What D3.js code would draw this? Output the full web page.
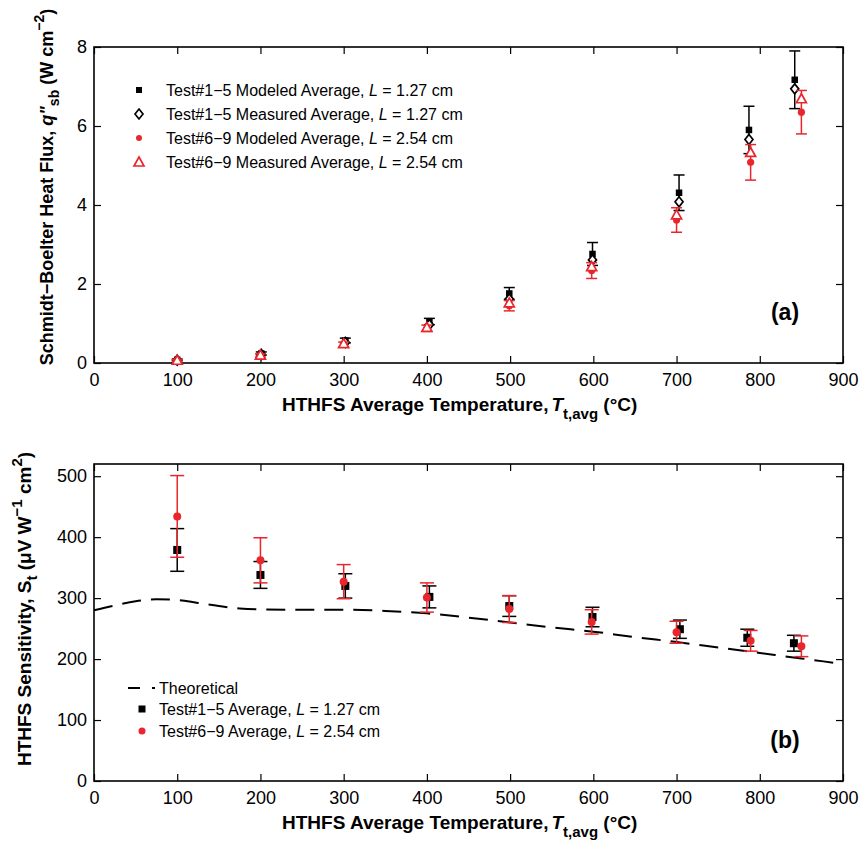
<!DOCTYPE html>
<html>
<head>
<meta charset="utf-8">
<script src="https://cdn.jsdelivr.net/npm/d3@7"></script>
<style>
  body { margin: 0; background: #fff; }
  svg text { font-family: "Liberation Sans", Arial, sans-serif; fill: #000; }
</style>
</head>
<body>
<div id="chart"></div>
<script>
// ---------------- data ----------------
// panel (a): Schmidt-Boelter heat flux, W cm^-2
var tempA1      = [100, 201, 302, 403, 499, 599, 703, 787, 842];   // Test#1-5
var modeledA1   = [0.08, 0.24, 0.57, 1.05, 1.76, 2.76, 4.31, 5.90, 7.17];
var modeledErrA1= [0.02, 0.04, 0.06, 0.08, 0.15, 0.29, 0.45, 0.60, 0.73];
var measuredA1  = [0.07, 0.22, 0.52, 0.97, 1.62, 2.61, 4.08, 5.66, 6.94];

var tempA2      = [100, 200, 300, 400, 499, 598, 700, 789, 850];   // Test#6-9
var modeledA2   = [0.07, 0.19, 0.47, 0.88, 1.45, 2.34, 3.62, 5.08, 6.35];
var modeledErrA2= [0.02, 0.04, 0.06, 0.08, 0.13, 0.20, 0.31, 0.45, 0.55];
var measuredA2  = [0.07, 0.20, 0.49, 0.90, 1.52, 2.44, 3.75, 5.33, 6.69];

// panel (b): HTHFS sensitivity, uV W^-1 cm^2
var tempB1   = [100, 200, 302, 403, 499, 599, 704, 785, 841];
var sensB1   = [379, 338, 320, 302, 287, 269, 249, 235, 226];
var sensErrB1= [35, 22, 20, 18, 17, 16, 15, 14, 13];
var tempB2   = [100, 200, 300, 400, 499, 598, 700, 789, 850];
var sensB2   = [434, 362, 327, 301, 282, 261, 244, 230, 221];
var sensErrB2= [67, 37, 28, 24, 22, 20, 18, 17, 17];

var theoT    = [0, 25, 50, 75, 100, 125, 150, 175, 200, 250, 300, 350, 400, 450, 500, 550, 600, 650, 700, 750, 800, 850, 900];
var theoS    = [280, 288, 295, 298, 297, 292, 287, 283, 281.5, 281, 281, 279, 275, 268, 260, 252, 245, 236, 228, 219, 210, 201, 192];

var xTicks   = [0, 100, 200, 300, 400, 500, 600, 700, 800, 900];
var yTicksA  = [0, 2, 4, 6, 8];
var yTicksB  = [0, 100, 200, 300, 400, 500];

var RED = "#e8262b";

// ---------------- layout ----------------
var W = 862, H = 844;
var svg = d3.select("#chart").append("svg").attr("width", W).attr("height", H);

var xLeft = 94, xRight = 843;
var panelA = {top: 47, bottom: 363}, panelB = {top: 464, bottom: 781};

var x = d3.scaleLinear().domain([0, 900]).range([xLeft, xRight]);
var yA = d3.scaleLinear().domain([0, 8]).range([panelA.bottom, panelA.top]);
var yB = d3.scaleLinear().domain([0, 520]).range([panelB.bottom, panelB.top]);

function drawFrame(y, p, yTicks) {
  var g = svg.append("g");
  // bottom axis with labels, inward ticks
  g.append("g").attr("transform", "translate(0," + p.bottom + ")")
    .call(d3.axisBottom(x).tickValues(xTicks).tickSizeInner(-7).tickSizeOuter(0).tickPadding(10));
  g.append("g").attr("transform", "translate(0," + p.top + ")")
    .call(d3.axisTop(x).tickValues(xTicks).tickSizeInner(-7).tickSizeOuter(0).tickFormat(""));
  g.append("g").attr("transform", "translate(" + xLeft + ",0)")
    .call(d3.axisLeft(y).tickValues(yTicks).tickSizeInner(-7).tickSizeOuter(0).tickPadding(7));
  g.append("g").attr("transform", "translate(" + xRight + ",0)")
    .call(d3.axisRight(y).tickValues(yTicks).tickSizeInner(-7).tickSizeOuter(0).tickFormat(""));
  g.selectAll(".domain").remove();
  g.selectAll(".tick line").attr("stroke", "#000").attr("stroke-width", 1.2);
  g.selectAll(".tick text").style("font-size", "18px");
  g.append("rect").attr("x", xLeft).attr("y", p.top)
    .attr("width", xRight - xLeft).attr("height", p.bottom - p.top)
    .attr("fill", "none").attr("stroke", "#000").attr("stroke-width", 1.6);
}

function errorBars(g, xs, ys, es, y, color, cap) {
  var data = xs.map(function (t, i) { return {t: t, v: ys[i], e: es[i]}; });
  var eg = g.append("g").attr("stroke", color).attr("stroke-width", 1.5).attr("fill", "none");
  eg.selectAll("line.v").data(data).enter().append("line")
    .attr("x1", function (d) { return x(d.t); }).attr("x2", function (d) { return x(d.t); })
    .attr("y1", function (d) { return y(d.v - d.e); }).attr("y2", function (d) { return y(d.v + d.e); });
  [-1, 1].forEach(function (s) {
    eg.selectAll(null).data(data).enter().append("line")
      .attr("x1", function (d) { return x(d.t) - cap; }).attr("x2", function (d) { return x(d.t) + cap; })
      .attr("y1", function (d) { return y(d.v + s * d.e); }).attr("y2", function (d) { return y(d.v + s * d.e); });
  });
}

function squares(g, xs, ys, y, size) {
  g.selectAll(null).data(xs).enter().append("rect")
    .attr("x", function (t) { return x(t) - size / 2; })
    .attr("y", function (t, i) { return y(ys[i]) - size / 2; })
    .attr("width", size).attr("height", size).attr("fill", "#000");
}
function dots(g, xs, ys, y, r) {
  g.selectAll(null).data(xs).enter().append("circle")
    .attr("cx", function (t) { return x(t); })
    .attr("cy", function (t, i) { return y(ys[i]); })
    .attr("r", r).attr("fill", RED);
}
var diamondPath = "M0,-5L4,0L0,5L-4,0Z";
var trianglePath = "M0,-5L5,4L-5,4Z";
function shapes(g, xs, ys, y, path, color) {
  g.selectAll(null).data(xs).enter().append("path")
    .attr("d", path)
    .attr("transform", function (t, i) { return "translate(" + x(t) + "," + y(ys[i]) + ")"; })
    .attr("fill", "#fff").attr("stroke", color).attr("stroke-width", 1.7);
}

// ---------------- panel (a) ----------------
drawFrame(yA, panelA, yTicksA);
var gA = svg.append("g");
errorBars(gA, tempA1, modeledA1, modeledErrA1, yA, "#000", 5.5);
squares(gA, tempA1, modeledA1, yA, 6.5);
shapes(gA, tempA1, measuredA1, yA, diamondPath, "#000");
errorBars(gA, tempA2, modeledA2, modeledErrA2, yA, RED, 5.5);
dots(gA, tempA2, modeledA2, yA, 3.6);
shapes(gA, tempA2, measuredA2, yA, trianglePath, RED);

// legend (a)
var legA = svg.append("g");
var legAItems = [
  {name: "Test#1\u22125 Modeled Average, ", L: "1.27 cm", kind: "sq"},
  {name: "Test#1\u22125 Measured Average, ", L: "1.27 cm", kind: "dia"},
  {name: "Test#6\u22129 Modeled Average, ", L: "2.54 cm", kind: "dot"},
  {name: "Test#6\u22129 Measured Average, ", L: "2.54 cm", kind: "tri"}
];
legAItems.forEach(function (d, i) {
  var cy = 90 + i * 24, cx = 139;
  if (d.kind === "sq") legA.append("rect").attr("x", cx - 3).attr("y", cy - 3).attr("width", 6).attr("height", 6).attr("fill", "#000");
  if (d.kind === "dia") legA.append("path").attr("d", diamondPath).attr("transform", "translate(" + cx + "," + cy + ")").attr("fill", "#fff").attr("stroke", "#000").attr("stroke-width", 1.7);
  if (d.kind === "dot") legA.append("circle").attr("cx", cx).attr("cy", cy).attr("r", 3).attr("fill", RED);
  if (d.kind === "tri") legA.append("path").attr("d", trianglePath).attr("transform", "translate(" + cx + "," + cy + ")").attr("fill", "#fff").attr("stroke", RED).attr("stroke-width", 1.7);
  var t = legA.append("text").attr("x", 166).attr("y", cy + 6).style("font-size", "16px");
  t.append("tspan").text(d.name);
  t.append("tspan").style("font-style", "italic").text("L");
  t.append("tspan").text(" = " + d.L);
});

svg.append("text").attr("x", 785).attr("y", 320).attr("text-anchor", "middle")
  .style("font-size", "23px").style("font-weight", "bold").text("(a)");

// ---------------- panel (b) ----------------
drawFrame(yB, panelB, yTicksB);
var gB = svg.append("g");
var theoLine = d3.line().curve(d3.curveMonotoneX)
  .x(function (t) { return x(t); })
  .y(function (t, i) { return yB(theoS[i]); });
gB.append("path").datum(theoT).attr("d", theoLine)
  .attr("fill", "none").attr("stroke", "#000").attr("stroke-width", 2)
  .attr("stroke-dasharray", "19,10");
errorBars(gB, tempB1, sensB1, sensErrB1, yB, "#000", 7);
squares(gB, tempB1, sensB1, yB, 8);
errorBars(gB, tempB2, sensB2, sensErrB2, yB, RED, 7);
dots(gB, tempB2, sensB2, yB, 4);

// legend (b)
var legB = svg.append("g");
legB.append("line").attr("x1", 128).attr("x2", 140).attr("y1", 688).attr("y2", 688)
  .attr("stroke", "#000").attr("stroke-width", 2);
legB.append("line").attr("x1", 152).attr("x2", 155).attr("y1", 688).attr("y2", 688)
  .attr("stroke", "#000").attr("stroke-width", 2);
legB.append("text").attr("x", 159).attr("y", 694).style("font-size", "16px").text("Theoretical");
var legBItems = [
  {name: "Test#1\u22125 Average, ", L: "1.27 cm", kind: "sq"},
  {name: "Test#6\u22129 Average, ", L: "2.54 cm", kind: "dot"}
];
legBItems.forEach(function (d, i) {
  var cy = 709 + i * 22, cx = 142;
  if (d.kind === "sq") legB.append("rect").attr("x", cx - 3.5).attr("y", cy - 3.5).attr("width", 7).attr("height", 7).attr("fill", "#000");
  else legB.append("circle").attr("cx", cx).attr("cy", cy).attr("r", 3.5).attr("fill", RED);
  var t = legB.append("text").attr("x", 159).attr("y", cy + 6).style("font-size", "16px");
  t.append("tspan").text(d.name);
  t.append("tspan").style("font-style", "italic").text("L");
  t.append("tspan").text(" = " + d.L);
});

svg.append("text").attr("x", 785).attr("y", 748).attr("text-anchor", "middle")
  .style("font-size", "23px").style("font-weight", "bold").text("(b)");

// ---------------- axis titles ----------------
function xTitle(yBase) {
  var t = svg.append("text").attr("x", 282).attr("y", yBase)
    .style("font-size", "19px").style("font-weight", "bold");
  t.append("tspan").text("HTHFS Average Temperature,");
  t.append("tspan").style("font-style", "italic").attr("dx", 3).text("T");
  t.append("tspan").attr("baseline-shift", "-8px").style("font-size", "15px").text("t,avg");
  t.append("tspan").attr("baseline-shift", "0").text(" (\u00B0C)");
}
xTitle(411);
xTitle(829);

var tA = svg.append("text").attr("transform", "translate(53,187) rotate(-90)")
  .attr("text-anchor", "middle").style("font-size", "18px").style("font-weight", "bold");
tA.append("tspan").text("Schmidt\u2212Boelter Heat Flux, ");
tA.append("tspan").style("font-style", "italic").text("q\"");
tA.append("tspan").attr("baseline-shift", "-6px").style("font-size", "14px").text("sb");
tA.append("tspan").text(" (W cm");
tA.append("tspan").attr("baseline-shift", "9px").style("font-size", "14px").text("\u22122");
tA.append("tspan").text(")");

var tB = svg.append("text").attr("transform", "translate(31,609) rotate(-90)")
  .attr("text-anchor", "middle").style("font-size", "19px").style("font-weight", "bold");
tB.append("tspan").text("HTHFS Sensitivity, S");
tB.append("tspan").attr("baseline-shift", "-6px").style("font-size", "15px").text("t");
tB.append("tspan").text(" (\u03BCV W");
tB.append("tspan").attr("baseline-shift", "9px").style("font-size", "15px").text("\u22121");
tB.append("tspan").text(" cm");
tB.append("tspan").attr("baseline-shift", "9px").style("font-size", "15px").text("2");
tB.append("tspan").text(")");
</script>
</body>
</html>
